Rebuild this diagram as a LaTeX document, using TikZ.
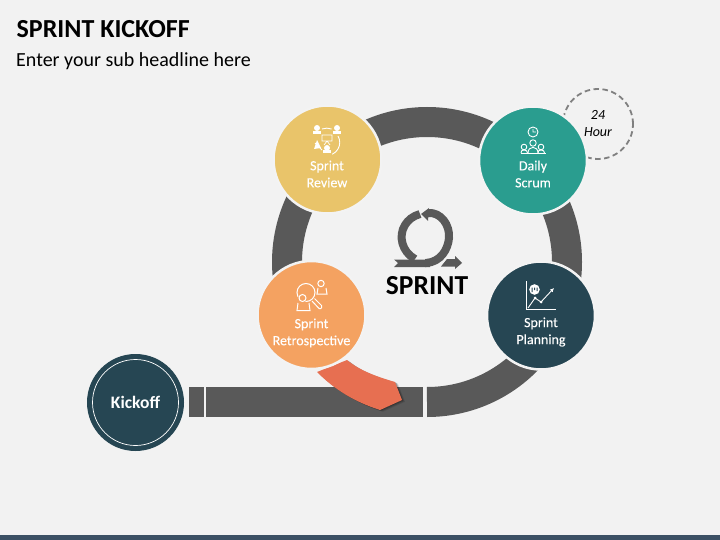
\documentclass[tikz,border=0pt]{standalone}
\usepackage{fontspec}
\setmainfont{Carlito}
\usetikzlibrary{arrows.meta}
\definecolor{bgc}{HTML}{F2F2F2}
\definecolor{ringc}{HTML}{595959}
\definecolor{edgec}{HTML}{F3F3F3}
\definecolor{yellowc}{HTML}{E9C46A}
\definecolor{tealc}{HTML}{2A9D8F}
\definecolor{navyc}{HTML}{264653}
\definecolor{orangec}{HTML}{F4A261}
\definecolor{redc}{HTML}{E76F51}
\definecolor{footc}{HTML}{3B5064}
\tikzset{
  x=1pt,y=1pt,
  stage/.style={circle,draw=edgec,line width=2.5pt,minimum size=108pt,inner sep=0pt},
  stagetext/.style={text=white,font=\fontsize{14}{17}\selectfont\addfontfeature{FakeBold=0.2},align=center,inner sep=0pt},
}
\begin{document}
\begin{tikzpicture}
\useasboundingbox (0,0) rectangle (720,-540);
\fill[bgc] (0,0) rectangle (720,-540);
\fill[footc] (0,-535) rectangle (720,-540);
% titles
\node[anchor=west,inner sep=0pt,font=\fontsize{26}{28}\selectfont\bfseries] (title) at (16.5,-29) {SPRINT KICKOFF};
\node[anchor=west,inner sep=0pt,font=\fontsize{20}{22}\selectfont] (sub) at (16,-61) {Enter your sub headline here};
% dashed timer
\node[circle,draw=gray,line width=1.8pt,dash pattern=on 5.5pt off 3.5pt,minimum size=70pt,inner sep=0pt,
  font=\fontsize{14}{17}\selectfont\itshape,align=center] (timer) at (598,-124) {24\\Hour};
% ring
\draw[ringc,line width=30pt] (427,-402) arc[start angle=270,end angle=565,radius=140pt];
% bar
\fill[ringc] (189,-387) rectangle (204,-417);
\fill[ringc] (206,-387) rectangle (423,-417);
% orange arrow with shadow
\foreach \d/\o in {3/.10,2/.15,1/.2}{
  \fill[black,opacity=\o,shift={(\d,-\d*0.6)}] (317,-372) -- (347,-360) .. controls (360,-371) and (378,-377) .. (395,-382) -- (402,-400) -- (380,-410) .. controls (355,-402) and (335,-390) .. cycle;
}
\fill[redc] (317,-372) -- (347,-360) .. controls (360,-371) and (378,-377) .. (395,-382) -- (402,-400) -- (380,-410) .. controls (355,-402) and (335,-390) .. cycle;
% stages
\node[stage,fill=yellowc] (review) at (327.5,-159.5) {};
\node[stage,fill=tealc] (daily) at (533,-160.5) {};
\node[stage,fill=navyc] (planning) at (541,-315.5) {};
\node[stage,fill=orangec] (retro) at (311.5,-315) {};
\node[stagetext] (reviewt) at (327,-174) {Sprint\\Review};
\node[stagetext] (dailyt) at (533,-174) {Daily\\Scrum};
\node[stagetext] (planningt) at (541,-332) {Sprint\\Planning};
\node[stagetext] (retrot) at (311.5,-333) {Sprint\\Retrospective};
% kickoff
\node[circle,fill=navyc,minimum size=97pt,inner sep=0pt] (kick) at (135.5,-402.5) {};
\node[circle,draw=white,line width=.7pt,minimum size=86pt,inner sep=0pt,text=white,font=\fontsize{17.5}{20}\selectfont\bfseries] (kicktext) at (135.5,-402.5) {Kickoff};
% sprint centre
\node[inner sep=0pt,font=\fontsize{27.5}{30}\selectfont\bfseries] (sprint) at (427,-286) {SPRINT};
% loop icon
\draw[ringc,line width=8pt] (415,-259) .. controls (402,-252) and (398,-236) .. (405,-225) .. controls (408,-220) and (413,-216) .. (420,-214);
\draw[ringc,line width=8pt] (428,-213) .. controls (441,-212) and (450,-225) .. (449,-238) .. controls (448,-249) and (441,-262) .. (426,-263) -- (425,-263);
\fill[ringc] (429,-208) -- (421,-214) -- (428,-221) -- cycle;
\fill[ringc] (394,-259.5) -- (430,-259.5) -- (430,-267) -- (394,-267) -- (398,-263) -- cycle;
\fill[ringc] (441,-266.5) -- (447,-259) -- (455,-259) -- (455,-256) -- (462,-263) -- (455,-269) -- (455,-266.5) -- cycle;
% review icon
\fill[white] (317,-128) circle (3pt); \fill[white] (313,-134) rectangle (321,-131);
\fill[white] (337,-128) circle (3pt); \fill[white] (333,-134) rectangle (341,-131);
\fill[white] (327,-148) circle (3pt); \fill[white] (323,-153) rectangle (331,-150.5);
\draw[white,line width=.9pt] (322,-129) arc[start angle=110,end angle=70,radius=14pt];
\draw[white,line width=.9pt] (338,-136) arc[start angle=30,end angle=-65,radius=13pt];
\draw[white,line width=.9pt] (322,-150) -- (315,-143);
\fill[white] (317,-140) -- (314,-149) -- (321,-148) -- cycle;
\draw[white,line width=.7pt] (322,-135) rectangle (332,-141) (327,-141) -- (324,-145) (327,-141) -- (330,-145);
% daily icon
\draw[white,line width=.9pt] (533,-132) circle (5pt) (533,-129) -- (533,-132) -- (536,-132);
\draw[white,line width=.9pt] (533,-143) circle (3.2pt) (524,-147) circle (2.8pt) (541,-147) circle (2.8pt);
\draw[white,line width=.9pt] (521,-153) .. controls (520,-149) and (528,-149) .. (527.5,-153);
\draw[white,line width=.9pt] (538,-153) .. controls (537,-149) and (545,-149) .. (544.5,-153);
\draw[white,line width=.9pt] (528,-153) .. controls (528,-145.5) and (538,-145.5) .. (538,-153);
\draw[white,line width=.9pt] (520.5,-153) -- (545.5,-153);
% planning icon
\draw[white,line width=.9pt] (526,-281) -- (526,-309) -- (556,-309);
\draw[white,line width=.9pt,-{Latex[length=4pt,width=4pt]}] (528,-308) -- (535,-298) -- (541,-302) -- (554,-288);
\fill[white] (535,-298) circle (1.5pt) (541,-302) circle (1.5pt);
\fill[white] (534.5,-289.5) circle (5.3pt);
\fill[navyc] (531.5,-292) rectangle (532.5,-287.5) (534,-290) rectangle (535,-287.5) (536.5,-291) rectangle (537.5,-287.5);
% retro icon
\draw[white,line width=1pt] (306,-292.5) circle (9pt);
\draw[white,line width=1pt,rounded corners=1.2pt] (312,-301) -- (320,-309.5) -- (322.5,-306.5) -- (314.5,-298.5);
\draw[white,line width=1pt] (321,-283.5) circle (3.2pt);
\draw[white,line width=1pt] (318,-288) -- (317,-294) -- (327,-294) -- (326,-288);
\fill[orangec] (302.5,-298) circle (4.6pt);
\draw[white,line width=1pt] (302.5,-298) circle (3.5pt);
\fill[orangec] (296,-302) rectangle (310,-311);
\draw[white,line width=1pt] (298,-303) -- (297,-310.5) -- (310,-310.5) -- (309,-303);
\end{tikzpicture}
\end{document}
